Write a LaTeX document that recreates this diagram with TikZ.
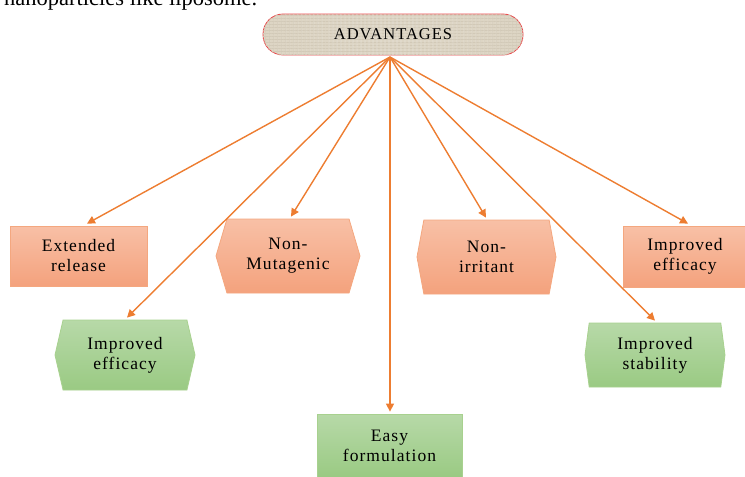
\documentclass[tikz,border=0pt]{standalone}
\usepackage{fontspec}
\setmainfont{Liberation Serif}
\newfontfamily\boxfont{Liberation Serif}[LetterSpace=6]
\usetikzlibrary{arrows.meta,shapes.symbols,patterns.meta}
\definecolor{arr}{HTML}{ED7D31}
\definecolor{orT}{HTML}{F8C0A6}
\definecolor{orB}{HTML}{F4A27D}
\definecolor{orD}{HTML}{F4A77F}
\definecolor{grT}{HTML}{B7D9A8}
\definecolor{grB}{HTML}{9ACA83}
\definecolor{grD}{HTML}{A8D18F}
\definecolor{beige}{HTML}{DDD5C4}
\definecolor{linen}{HTML}{D2C9B7}
\definecolor{redb}{HTML}{E8474A}
\tikzset{
  txt/.style={font=\boxfont\fontsize{17.5}{20}\selectfont, align=center, text=black},
  orbox/.style={txt, draw=orD, line width=0.8pt, top color=orT, bottom color=orB, inner sep=0pt},
  grbox/.style={txt, draw=grD, line width=0.8pt, top color=grT, bottom color=grB, inner sep=0pt},
  hexa/.style={signal, signal to=east and west, signal pointer angle=#1},
  link/.style={draw=arr, line width=1.4pt, -{Triangle[length=8pt,width=8pt]}},
}
\begin{document}
\begin{tikzpicture}[x=1pt,y=-1pt]
\useasboundingbox (0,0) rectangle (745,477);
\node[anchor=base west, inner sep=0pt, font=\fontsize{22.5}{24}\selectfont] (top) at (4,5) {nanoparticles like liposome.};
\node[draw=redb, line width=0.8pt, fill=beige, rounded corners=20pt, minimum width=260pt, minimum height=41pt,
      postaction={pattern={Lines[angle=0,distance=3pt,line width=0.4pt]}, pattern color=linen},
      postaction={pattern={Lines[angle=90,distance=4pt,line width=0.4pt]}, pattern color=linen},
      font=\boxfont\fontsize{16.5}{20}\selectfont] (adv) at (393,34.5) {ADVANTAGES};
\node[orbox, minimum width=137pt, minimum height=60pt] (ext) at (78.5,256) {Extended\\release};
\node[orbox, hexa=147, minimum width=144pt, minimum height=74pt] (mut) at (288,256) {Non-\\Mutagenic};
\node[orbox, hexa=159, minimum width=139pt, minimum height=74pt] (irr) at (486.5,257) {Non-\\irritant};
\node[orbox, minimum width=124pt, minimum height=61pt] (effa) at (685,256.5) {Improved\\efficacy};
\node[grbox, hexa=154, minimum width=140pt, minimum height=70pt] (effb) at (125,355) {Improved\\efficacy};
\node[grbox, hexa=165, minimum width=140pt, minimum height=64pt] (stab) at (655,355) {Improved\\stability};
\node[grbox, minimum width=145pt, minimum height=63pt] (easy) at (389.5,445.5) {Easy\\formulation};
\coordinate (hub) at (390,57);
\draw[link] (hub) -- ([xshift=8.5pt,yshift=2pt]ext.north);
\draw[link] (hub) -- ([xshift=3pt,yshift=2pt]mut.north);
\draw[link] (hub) -- ([xshift=-0.5pt,yshift=2pt]irr.north);
\draw[link] (hub) -- ([xshift=3pt,yshift=2pt]effa.north);
\draw[link] (hub) -- ([xshift=2pt,yshift=2pt]effb.north);
\draw[link] (hub) -- ([yshift=2pt]stab.north);
\draw[link] (hub) -- ([xshift=0.5pt,yshift=2pt]easy.north);
\end{tikzpicture}
\end{document}
